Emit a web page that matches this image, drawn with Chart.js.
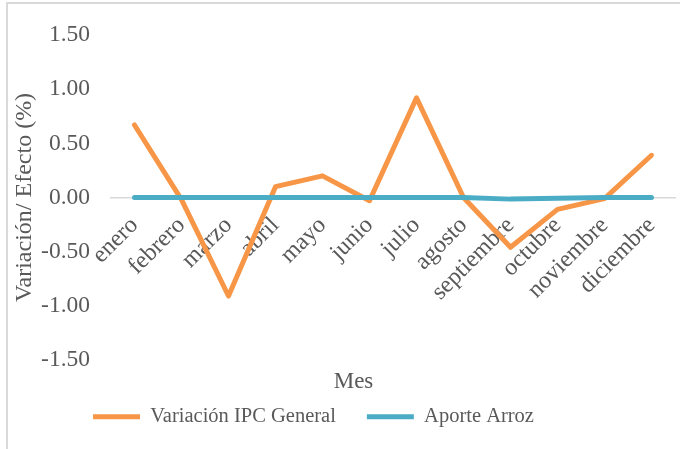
<!DOCTYPE html>
<html>
<head>
<meta charset="utf-8">
<script src="https://cdn.jsdelivr.net/npm/chart.js@4"></script>
<style>
  body { margin: 0; background: #fff; }
  #frame { position: absolute; left: 6px; top: 2px; width: 700px; height: 470px; border: 2px solid #d9d9d9; }
  #lineChart { position: absolute; left: 0; top: 0; }
</style>
</head>
<body>
<div id="frame"></div>
<canvas id="lineChart" width="680" height="449"></canvas>
<script>
const months = ["enero", "febrero", "marzo", "abril", "mayo", "junio", "julio",
                "agosto", "septiembre", "octubre", "noviembre", "diciembre"];
const ipcGeneral  = [0.67, -0.02, -0.91, 0.10, 0.20, -0.03, 0.92, 0.00, -0.46, -0.11, -0.01, 0.39];
const aporteArroz = [0.00, 0.00, 0.00, 0.00, 0.00, 0.00, 0.00, 0.00, -0.015, -0.008, 0.00, 0.00];
const seriesNames = ["Variación IPC General", "Aporte Arroz"];
const seriesColors = ["#f79646", "#4bacc6"];

const textColor = "#595959";
const serif = "'Liberation Serif', 'Times New Roman', serif";

// Excel puts the axis title and the legend a bit off-centre, move them after layout
const nudge = {
    id: 'nudge',
    afterLayout(chart) {
        const t = chart.titleBlock;
        t.left += 14; t.right += 14;
        const lg = chart.legend;
        lg.left -= 26; lg.right -= 26;
        lg.top -= 20; lg.bottom -= 20;
    }
};

const ctx = document.getElementById('lineChart').getContext('2d');
const chart = new Chart(ctx, {
    type: 'line',
    data: {
        labels: months,
        datasets: [{
            label: seriesNames[0],
            data: ipcGeneral,
            borderColor: seriesColors[0],
            backgroundColor: seriesColors[0],
            borderWidth: 5,
            pointRadius: 0,
            tension: 0,
            borderCapStyle: 'round',
            borderJoinStyle: 'round',
            order: 1
        }, {
            label: seriesNames[1],
            data: aporteArroz,
            borderColor: seriesColors[1],
            backgroundColor: seriesColors[1],
            borderWidth: 5,
            pointRadius: 0,
            tension: 0,
            borderCapStyle: 'round',
            borderJoinStyle: 'round',
            order: 0
        }]
    },
    options: {
        responsive: false,
        animation: false,
        layout: { padding: { left: 4, right: 5, top: 32, bottom: -8 } },
        scales: {
            x: {
                position: { y: 0 },
                offset: true,
                // labels hang below the zero line, they need no side room
                afterFit: (scale) => { scale.paddingLeft = 0; scale.paddingRight = 0; },
                grid: { display: false, drawTicks: false },
                border: { display: true, color: '#d9d9d9', width: 1.5 },
                ticks: {
                    autoSkip: false,
                    minRotation: 45,
                    maxRotation: 45,
                    padding: 14,
                    color: textColor,
                    font: { family: serif, size: 24 }
                }
            },
            y: {
                min: -1.5,
                max: 1.5,
                afterFit: (scale) => { scale.width = 107; },
                grid: { display: false, drawTicks: false },
                border: { display: false },
                ticks: {
                    stepSize: 0.5,
                    padding: 21,
                    color: textColor,
                    font: { family: serif, size: 23.5 },
                    callback: v => v.toFixed(2)
                },
                title: {
                    display: true,
                    text: 'Variación/ Efecto (%)',
                    color: textColor,
                    font: { family: serif, size: 24 },
                    padding: { top: 6, bottom: 6 }
                }
            }
        },
        plugins: {
            title: {
                display: true,
                text: 'Mes',
                position: 'bottom',
                weight: 500,
                color: textColor,
                font: { family: serif, size: 23, weight: 'normal' },
                padding: { top: 8, bottom: 0 }
            },
            legend: {
                position: 'bottom',
                labels: {
                    boxWidth: 47,
                    boxHeight: 5,
                    padding: 31,
                    color: textColor,
                    font: { family: serif, size: 20.5 },
                    useBorderRadius: true,
                    borderRadius: 2.5,
                    generateLabels: (c) => c.data.datasets.map((ds, i) => ({
                        text: ds.label,
                        fillStyle: ds.borderColor,
                        strokeStyle: ds.borderColor,
                        lineWidth: 0,
                        fontColor: textColor,
                        datasetIndex: i
                    }))
                }
            },
            tooltip: { enabled: false }
        }
    },
    plugins: [nudge]
});
</script>
</body>
</html>
